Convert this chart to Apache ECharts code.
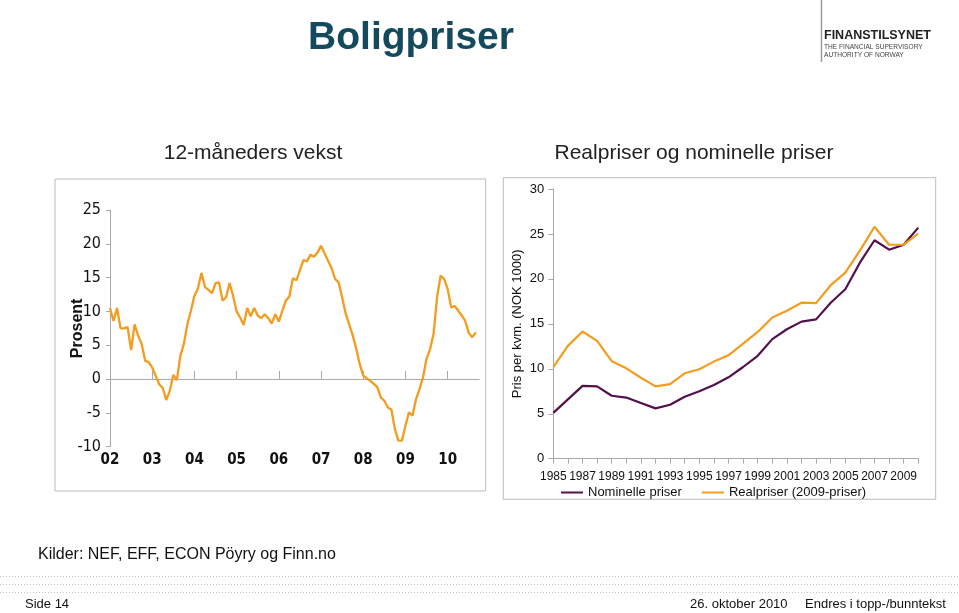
<!DOCTYPE html>
<html><head><meta charset="utf-8">
<script src="https://cdn.jsdelivr.net/npm/echarts@6/dist/echarts.min.js"></script>
<style>html,body{margin:0;padding:0;background:#fff}#c{width:959px;height:613px}</style>
</head><body><div id="c"></div>
<script>
// ---- Left chart: 12-month growth (monthly, Jan 2002 - Sep 2010) ----
const yearLabels = ['02','03','04','05','06','07','08','09','10'];
const growth = [
 10.5, 8.6, 10.5, 7.5, 7.5, 7.7, 4.3, 8.1, 6.4, 5.2, 2.7, 2.5,
 1.7, 0.5, -0.8, -1.3, -3.1, -1.7, 0.6, -0.15, 3.4, 5.2, 8.1, 10.1,
 12.3, 13.4, 15.7, 13.6, 13.2, 12.7, 14.2, 14.3, 11.6, 12.1, 14.2, 12.3,
 10.0, 9.1, 8.0, 10.5, 9.3, 10.5, 9.4, 9.0, 9.6, 9.0, 8.2, 9.6,
 8.5, 10.1, 11.6, 12.2, 14.9, 14.6, 16.1, 17.6, 17.4, 18.4, 18.1, 18.7,
 19.7, 18.6, 17.5, 16.4, 14.8, 14.3, 12.1, 9.7, 8.1, 6.5, 4.5, 2.2,
 0.5, 0.1, -0.25, -0.7, -1.2, -2.7, -3.2, -4.2, -4.5, -7.4, -9.1, -9.1,
 -6.9, -4.9, -5.4, -3.0, -1.5, 0.25, 3.0, 4.4, 6.7, 12.1, 15.3, 14.8,
 13.3, 10.6, 10.8, 10.1, 9.4, 8.6, 6.8, 6.2, 6.9
];
const leftTicks = [25, 20, 15, 10, 5, 0, -5, -10];

// ---- Right chart: price per sqm (annual 1985 - 2010) ----
const years = [1985,1986,1987,1988,1989,1990,1991,1992,1993,1994,1995,1996,1997,1998,1999,2000,2001,2002,2003,2004,2005,2006,2007,2008,2009,2010];
const nominal = [5.1,6.6,8.1,8.05,7.0,6.8,6.2,5.6,6.0,6.9,7.5,8.2,9.05,10.2,11.45,13.3,14.4,15.25,15.5,17.35,18.85,21.8,24.3,23.25,23.8,25.7];
const real = [10.2,12.55,14.15,13.1,10.85,10.05,9.0,8.05,8.3,9.5,9.95,10.8,11.5,12.8,14.1,15.7,16.45,17.35,17.3,19.3,20.7,23.15,25.8,23.8,23.8,25.05];
const seriesNames = ['Nominelle priser', 'Realpriser (2009-priser)'];

// monthly categories built from year labels (Jan 2002 .. Oct 2010)
const months = [];
yearLabels.forEach(function (y) {
  for (let m = 1; m <= 12; m++) months.push(y + '-' + (m < 10 ? '0' + m : m));
});
const monthCats = months.slice(0, growth.length + 1);

const ORANGE = '#f39c1e';
const PURPLE = '#53104d';
const AXIS = '#a9a9a9';
const NARROW = '"DejaVu Sans Condensed", "Liberation Sans Narrow", "Arial Narrow", sans-serif';
const SANS = '"Liberation Sans", Arial, Helvetica, sans-serif';

const chart = echarts.init(document.getElementById('c'), null, {renderer: 'canvas'});

function dotLine(y) {
  return {type: 'line', shape: {x1: 0, y1: y, x2: 959, y2: y},
    style: {stroke: '#b9c7d5', lineWidth: 1, lineDash: [1, 2]}, silent: true};
}

const option = {
  animation: false,
  backgroundColor: '#fff',
  textStyle: {fontFamily: SANS},
  title: [
    {text: 'Boligpriser', left: 406, top: 14, textAlign: 'center',
     textStyle: {fontSize: 39, fontWeight: 'bold', color: '#144a5e', fontFamily: SANS}},
    {text: '12-måneders vekst', left: 248, top: 138, textAlign: 'center',
     textStyle: {fontSize: 21, fontWeight: 'normal', color: '#222', fontFamily: SANS}},
    {text: 'Realpriser og nominelle priser', left: 689, top: 138, textAlign: 'center',
     textStyle: {fontSize: 21, fontWeight: 'normal', color: '#222', fontFamily: SANS}}
  ],
  legend: {
    data: seriesNames,
    left: 556, top: 481,
    itemWidth: 22, itemHeight: 2, itemGap: 20,
    icon: 'rect',
    textStyle: {fontSize: 13, color: '#111', fontFamily: SANS}
  },
  grid: [
    {left: 110, right: 479.7, top: 210, bottom: 166.3, containLabel: false},
    {left: 553.3, right: 40.7, top: 189, bottom: 154.3, containLabel: false}
  ],
  xAxis: [
    {gridIndex: 0, type: 'category', data: monthCats, boundaryGap: false, position: 'bottom',
     axisLine: {onZero: true, lineStyle: {color: AXIS, width: 1}},
     axisTick: {show: true, inside: true, length: 8, lineStyle: {color: AXIS},
       interval: function (i) { return i > 0 && i % 12 === 0; }},
     axisLabel: {show: false}, splitLine: {show: false}},
    {gridIndex: 0, type: 'category', data: monthCats, boundaryGap: false, position: 'bottom',
     axisLine: {show: false, onZero: false}, axisTick: {show: false}, splitLine: {show: false},
     axisLabel: {show: true, margin: 6, fontSize: 15, fontWeight: 'bold', color: '#111', fontFamily: NARROW,
       interval: function (i) { return i % 12 === 0; },
       formatter: function (v) { return v.slice(0, 2); }}},
    {gridIndex: 1, type: 'category', data: years, boundaryGap: false,
     axisLine: {onZero: false, lineStyle: {color: AXIS}},
     axisTick: {show: true, length: 5, interval: 0, lineStyle: {color: AXIS}},
     axisLabel: {interval: 1, margin: 12, fontSize: 12, color: '#111', fontFamily: SANS},
     splitLine: {show: false}}
  ],
  yAxis: [
    {gridIndex: 0, type: 'value', min: -10, max: 25, interval: 5,
     name: 'Prosent', nameLocation: 'middle', nameGap: 24, nameRotate: 90, nameMoveOverlap: false,
     nameTextStyle: {fontSize: 16, fontWeight: 'bold', color: '#111', fontFamily: SANS},
     axisLine: {show: true, lineStyle: {color: AXIS}},
     axisTick: {show: true, length: 4, lineStyle: {color: AXIS}},
     axisLabel: {margin: 9, fontSize: 16, color: '#111', fontFamily: NARROW,
       formatter: function (v) { return leftTicks.indexOf(v) >= 0 ? String(v) : ''; }},
     splitLine: {show: false}},
    {gridIndex: 1, type: 'value', min: 0, max: 30, interval: 5,
     name: 'Pris per kvm. (NOK 1000)', nameLocation: 'middle', nameGap: 29, nameRotate: 90, nameMoveOverlap: false,
     nameTextStyle: {fontSize: 13, color: '#111', fontFamily: SANS},
     axisLine: {show: true, lineStyle: {color: AXIS}},
     axisTick: {show: true, length: 5, lineStyle: {color: AXIS}},
     axisLabel: {margin: 9, fontSize: 13, color: '#111', fontFamily: SANS},
     splitLine: {show: false}}
  ],
  series: [
    {name: '12-måneders vekst', type: 'line', xAxisIndex: 0, yAxisIndex: 0, data: growth,
     showSymbol: false, symbol: 'none', lineStyle: {color: ORANGE, width: 2.3}, itemStyle: {color: ORANGE}},
    {name: seriesNames[0], type: 'line', xAxisIndex: 2, yAxisIndex: 1, data: nominal,
     showSymbol: false, symbol: 'none', lineStyle: {color: PURPLE, width: 2.2}, itemStyle: {color: PURPLE}},
    {name: seriesNames[1], type: 'line', xAxisIndex: 2, yAxisIndex: 1, data: real,
     showSymbol: false, symbol: 'none', lineStyle: {color: ORANGE, width: 2.2}, itemStyle: {color: ORANGE}}
  ],
  graphic: [
    {type: 'rect', shape: {x: 55, y: 179, width: 430.7, height: 312}, z: -1,
     style: {fill: 'none', stroke: '#bdbdbd', lineWidth: 1}, silent: true},
    {type: 'rect', shape: {x: 503.3, y: 177.7, width: 432.4, height: 321.6}, z: -1,
     style: {fill: 'none', stroke: '#bdbdbd', lineWidth: 1}, silent: true},
    // logo
    {type: 'line', shape: {x1: 821.5, y1: 0, x2: 821.5, y2: 62}, style: {stroke: '#9a9a9a', lineWidth: 1.5}, silent: true},
    {type: 'text', x: 824, y: 36, silent: true,
     style: {text: 'FINANSTILSYNET', font: 'bold 12.5px ' + SANS, fill: '#222', textVerticalAlign: 'middle'}},
    {type: 'text', x: 824, y: 47, silent: true,
     style: {text: 'THE FINANCIAL SUPERVISORY', font: '6.6px ' + SANS, fill: '#444', textVerticalAlign: 'middle'}},
    {type: 'text', x: 824, y: 55, silent: true,
     style: {text: 'AUTHORITY OF NORWAY', font: '6.6px ' + SANS, fill: '#444', textVerticalAlign: 'middle'}},
    // footer
    {type: 'text', x: 38, y: 555, silent: true,
     style: {text: 'Kilder: NEF, EFF, ECON Pöyry og Finn.no', font: '16px ' + SANS, fill: '#111', textVerticalAlign: 'middle'}},
    dotLine(576.5), dotLine(584.5), dotLine(592.5),
    {type: 'text', x: 25, y: 604, silent: true,
     style: {text: 'Side 14', font: '13px ' + SANS, fill: '#111', textVerticalAlign: 'middle'}},
    {type: 'text', x: 690, y: 604, silent: true,
     style: {text: '26. oktober 2010', font: '13px ' + SANS, fill: '#111', textVerticalAlign: 'middle'}},
    {type: 'text', x: 805, y: 604, silent: true,
     style: {text: 'Endres i topp-/bunntekst', font: '13px ' + SANS, fill: '#111', textVerticalAlign: 'middle'}}
  ]
};
chart.setOption(option);
</script></body></html>
